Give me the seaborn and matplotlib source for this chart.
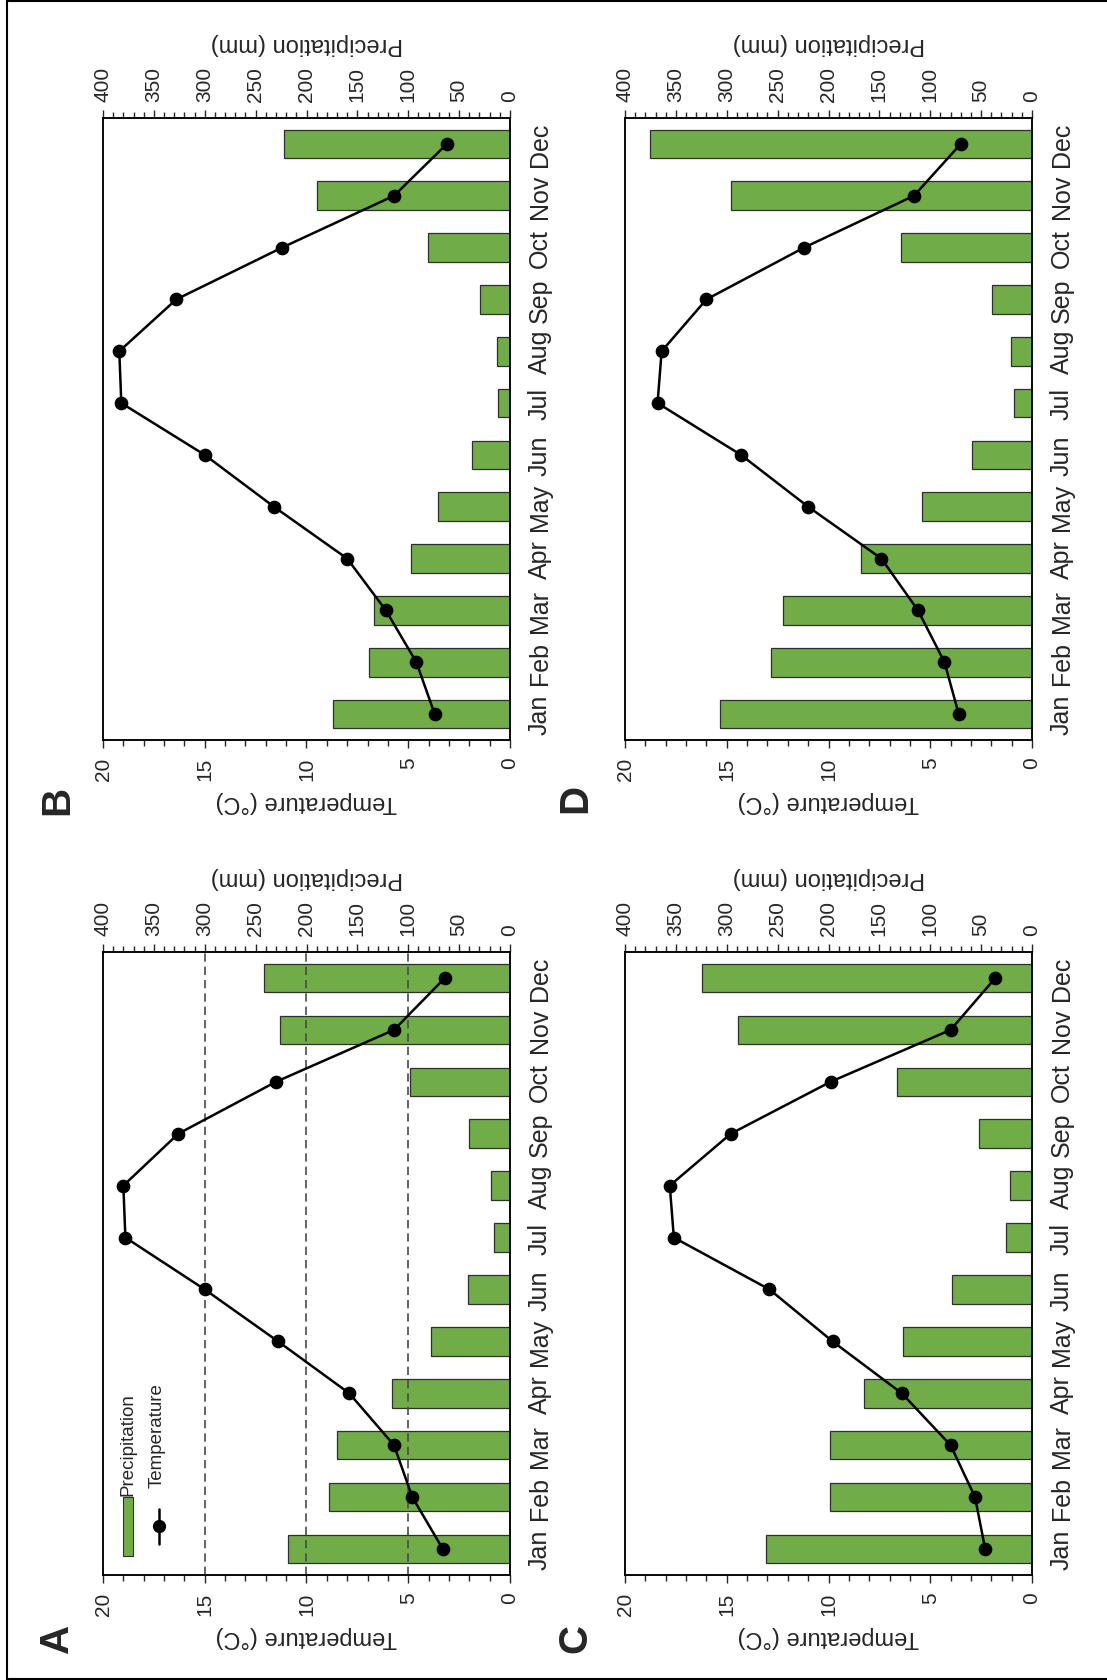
import numpy as np
import pandas as pd
import matplotlib
matplotlib.use("Agg")
import matplotlib.pyplot as plt
import seaborn as sns
from matplotlib.lines import Line2D
from matplotlib.patches import Rectangle
from matplotlib.ticker import MultipleLocator

# ---------------- data ----------------
months = ["Jan", "Feb", "Mar", "Apr", "May", "Jun",
          "Jul", "Aug", "Sep", "Oct", "Nov", "Dec"]

temp_a = [3.3, 4.8, 5.7, 7.9, 11.4, 15.0, 18.9, 19.0, 16.3, 11.5, 5.7, 3.2]
precip_a = [218, 178, 170, 116, 78, 41, 16, 19, 40, 98, 226, 242]

temp_b = [3.7, 4.6, 6.1, 8.0, 11.6, 15.0, 19.1, 19.2, 16.4, 11.2, 5.7, 3.1]
precip_b = [174, 139, 134, 97, 71, 37, 12, 13, 29, 81, 190, 222]

temp_c = [2.3, 2.8, 4.0, 6.4, 9.8, 12.9, 17.6, 17.8, 14.8, 9.9, 4.0, 1.8]
precip_c = [261, 199, 199, 165, 127, 79, 26, 22, 52, 133, 289, 324]

temp_d = [3.6, 4.3, 5.6, 7.4, 11.0, 14.3, 18.4, 18.2, 16.0, 11.2, 5.8, 3.5]
precip_d = [307, 257, 245, 168, 108, 59, 18, 21, 39, 129, 296, 375]

temp_ticks = [0, 5, 10, 15, 20]
precip_ticks = [0, 50, 100, 150, 200, 250, 300, 350, 400]
guide_temps = [5, 10, 15]

# ---------------- style ----------------
sns.set_style("ticks")
plt.rcParams["font.family"] = ["Liberation Sans", "DejaVu Sans"]
plt.rcParams["axes.linewidth"] = 1.0
plt.rcParams["axes.edgecolor"] = "black"

GREEN = "#70AD47"
W, H = 1107, 1681
fig = plt.figure(figsize=(W / 100, H / 100), dpi=100)

# panel boxes in pixel coords (left, top, right, bottom) of the rotated figure
panels = [
    ("A", temp_a, precip_a, (103, 953, 510, 1576), True, (57, 1638)),
    ("B", temp_b, precip_b, (103, 119, 510, 741), False, (57, 800)),
    ("C", temp_c, precip_c, (625, 953, 1032, 1576), False, (575, 1639)),
    ("D", temp_d, precip_d, (625, 119, 1032, 741), False, (575, 798)),
]

order = months[::-1]

for letter, temp, precip, box, extras, lpos in panels:
    x0, y0, x1, y1 = box
    ax = fig.add_axes([x0 / W, 1 - y1 / H, (x1 - x0) / W, (y1 - y0) / H])
    df = pd.DataFrame({"Month": months, "Precipitation": precip, "Temperature": temp})

    sns.barplot(data=df, x="Precipitation", y="Month", order=order, orient="h",
                color=GREEN, saturation=1, width=0.55, edgecolor="#2f2f2f",
                linewidth=0.9, ax=ax, zorder=2)
    ax.set_xlim(400, 0)
    ax.set_ylim(11.5, -0.5)

    ax2 = ax.twiny()
    if extras:
        for t in guide_temps:
            ax2.axvline(t, color="#4a4a4a", lw=1.2, ls=(0, (5, 3)), zorder=1)

    sns.pointplot(data=df, x="Temperature", y="Month", order=order, orient="h",
                  color="black", markers="o", markersize=8.5, linewidth=1.8,
                  errorbar=None, ax=ax2, zorder=5)
    ax2.set_xlim(20, 0)
    ax.set_ylim(11.5, -0.5)

    # precipitation axis -> top
    ax.xaxis.tick_top()
    ax.xaxis.set_label_position("top")
    ax.set_xticks(precip_ticks)
    ax.xaxis.set_minor_locator(MultipleLocator(10))
    ax.tick_params(axis="x", which="major", direction="out", length=6, width=1,
                   labelsize=15, labelrotation=90, pad=6, top=True, bottom=False)
    ax.tick_params(axis="x", which="minor", direction="out", length=4, width=1,
                   top=True, bottom=False)

    # months -> right side
    ax.yaxis.tick_right()
    ax.tick_params(axis="y", which="both", length=0, labelsize=18,
                   labelrotation=90, pad=13, left=False, right=False)
    for lbl in ax.get_yticklabels():
        lbl.set_va("center")

    # temperature axis -> bottom
    ax2.xaxis.tick_bottom()
    ax2.xaxis.set_label_position("bottom")
    ax2.set_xticks(temp_ticks)
    ax2.xaxis.set_minor_locator(MultipleLocator(1))
    ax2.tick_params(axis="x", which="major", direction="out", length=6, width=1,
                    labelsize=15, labelrotation=90, pad=6, top=False, bottom=True)
    ax2.tick_params(axis="x", which="minor", direction="out", length=4, width=1,
                    top=False, bottom=True)

    for a in (ax, ax2):
        a.set_xlabel("")
        a.set_ylabel("")
        for s in a.spines.values():
            s.set_visible(True)
            s.set_linewidth(1.1)
            s.set_color("black")

    # axis titles (rotated figure => upside-down)
    cx = (x0 + x1) / 2 / W
    fig.text(cx, 1 - (y0 - 75) / H, "Precipitation (mm)", rotation=180,
             ha="center", va="center", fontsize=17)
    fig.text(cx, 1 - (y1 + 61) / H, "Temperature (°C)", rotation=180,
             ha="center", va="center", fontsize=17)

    # panel letter
    fig.text(lpos[0] / W, 1 - lpos[1] / H, letter, rotation=90, ha="center",
             va="center", fontsize=29, fontweight="bold")

    if extras:
        # legend (rotated)
        ax2.add_patch(Rectangle((0.049, 0.030), 0.025, 0.095, transform=ax2.transAxes,
                                facecolor=GREEN, edgecolor="#2f2f2f", lw=0.8,
                                clip_on=False, zorder=6))
        ax2.add_line(Line2D([0.1376, 0.1376], [0.050, 0.106], transform=ax2.transAxes,
                            color="black", lw=1.8, zorder=6))
        ax2.add_line(Line2D([0.1376], [0.0785], transform=ax2.transAxes, color="black",
                            marker="o", markersize=8.5, lw=0, zorder=7))
        ax2.text(0.0614, 0.129, "Precipitation", rotation=90, ha="center", va="bottom",
                 transform=ax2.transAxes, fontsize=13.5)
        ax2.text(0.133, 0.142, "Temperature", rotation=90, ha="center", va="bottom",
                 transform=ax2.transAxes, fontsize=13.5)

# outer frame of the figure
for xs, ys in [([7 / W, 7 / W], [0.5 / H, 1 - 1.5 / H]),
               ([7 / W, 1], [1 - 1.5 / H, 1 - 1.5 / H]),
               ([7 / W, 1], [0.8 / H, 0.8 / H])]:
    fig.add_artist(Line2D(xs, ys, transform=fig.transFigure, color="black", lw=1.5))

fig.savefig("out.png", dpi=100)
